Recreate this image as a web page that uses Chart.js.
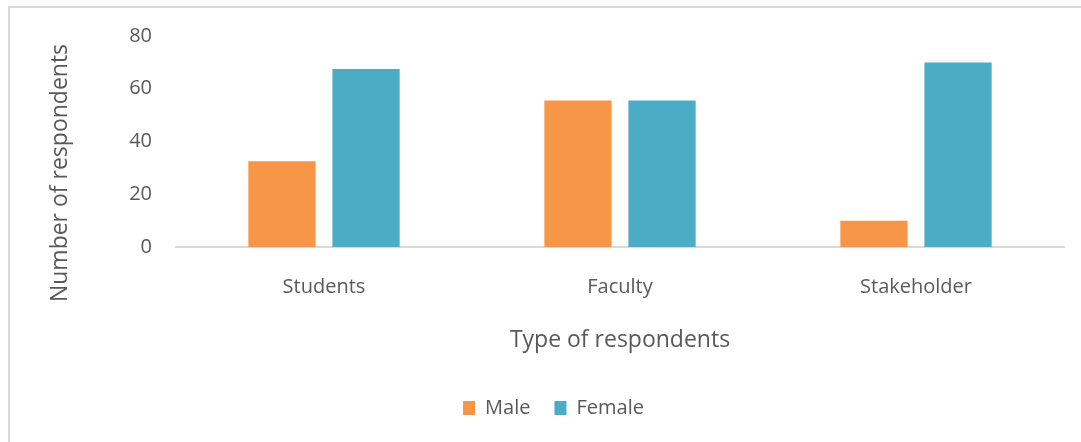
<!DOCTYPE html>
<html>
<head>
<meta charset="utf-8">
<script src="https://cdn.jsdelivr.net/npm/chart.js@4"></script>
<style>
  body { margin: 0; background: #fff; }
  #wrap { position: relative; width: 1081px; height: 442px; }
  #frame {
    position: absolute; left: 8px; top: 6px; right: -10px; bottom: -10px;
    border-top: 2px solid #d9d9d9; border-left: 2px solid #d9d9d9;
  }
  canvas { position: absolute; left: 0; top: 0; }
</style>
</head>
<body>
<div id="wrap">
  <div id="frame"></div>
  <canvas id="chart" width="1081" height="442"></canvas>
</div>
<script>
const categories = ["Students", "Faculty", "Stakeholder"];
const male = [32.5, 55.5, 10];
const female = [67.5, 55.5, 70];
const yTicks = [0, 20, 40, 60, 80];
const yTitle = "Number of respondents";

const textColor = "#595959";
Chart.defaults.font.family = "'Open Sans', sans-serif";
Chart.defaults.color = textColor;

// the y title sits lower than the plot centre in the original, so draw it by hand
const yTitlePlugin = {
  id: "yTitle",
  afterDraw(chart) {
    const { ctx, chartArea } = chart;
    ctx.save();
    ctx.translate(chartArea.left - 116, chartArea.bottom - 74);
    ctx.rotate(-Math.PI / 2);
    ctx.font = "23px 'Open Sans', sans-serif";
    ctx.fillStyle = textColor;
    ctx.textAlign = "center";
    ctx.textBaseline = "middle";
    ctx.fillText(yTitle, 0, 0);
    ctx.restore();
  },
};

new Chart(document.getElementById("chart"), {
  type: "bar",
  data: {
    labels: categories,
    datasets: [
      { label: "Male", data: male, backgroundColor: "#f79646" },
      { label: "Female", data: female, backgroundColor: "#4bacc6" },
    ],
  },
  plugins: [yTitlePlugin],
  options: {
    responsive: false,
    animation: false,
    categoryPercentage: 0.568,
    barPercentage: 0.8,
    layout: { padding: { left: 43, right: 17, top: 36, bottom: 14 } },
    plugins: {
      tooltip: { enabled: false },
      legend: {
        position: "bottom",
        labels: {
          boxWidth: 12,
          boxHeight: 14,
          padding: 24,
          font: { size: 20 },
          color: textColor,
        },
      },
    },
    scales: {
      x: {
        grid: { display: false, drawTicks: false },
        border: { display: true, color: "#d9d9d9", width: 2 },
        ticks: { padding: 28, font: { size: 20 }, color: textColor },
        title: {
          display: true,
          text: "Type of respondents",
          font: { size: 23 },
          color: textColor,
          padding: { top: 4, bottom: 20 },
        },
        afterFit: (axis) => { axis.height = 127; },
      },
      y: {
        min: 0,
        max: 80,
        afterBuildTicks: (axis) => { axis.ticks = yTicks.map((v) => ({ value: v })); },
        grid: { display: false, drawTicks: false },
        border: { display: false },
        ticks: { padding: 24, font: { size: 20 }, color: textColor },
        afterFit: (axis) => { axis.width = 133; },
      },
    },
  },
});
</script>
</body>
</html>
